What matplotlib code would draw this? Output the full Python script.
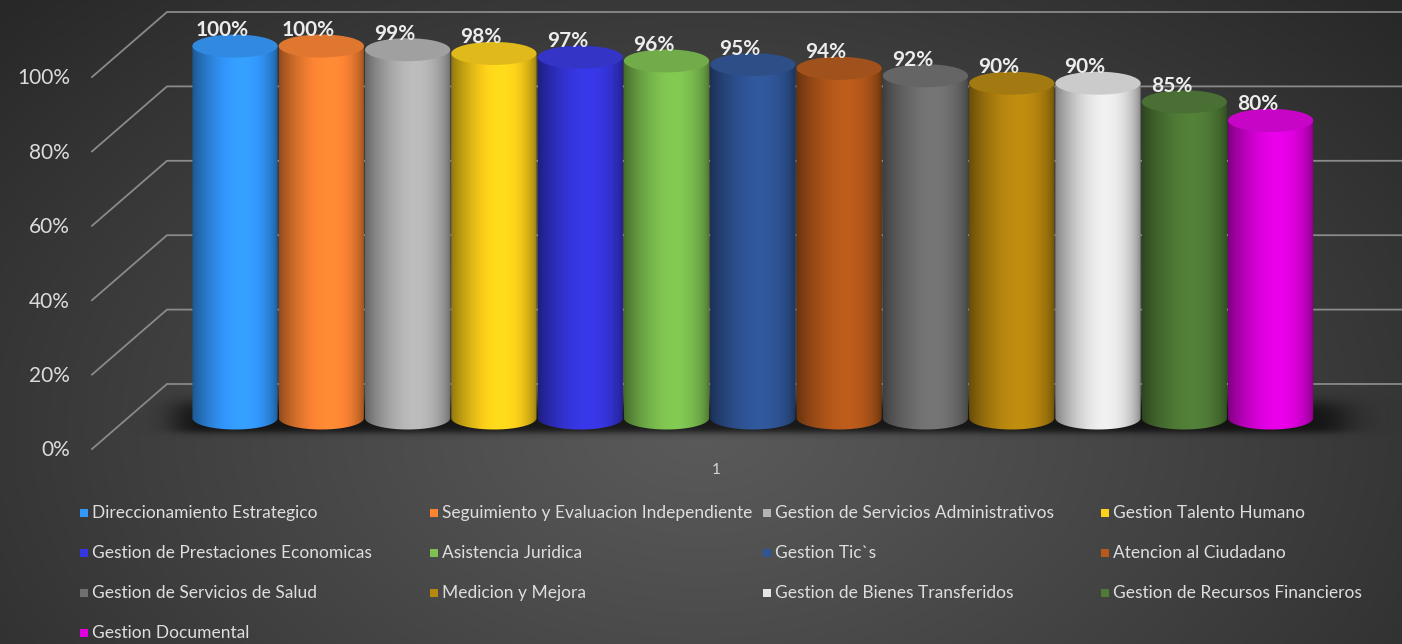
import numpy as np
import matplotlib
matplotlib.use("Agg")
import matplotlib.pyplot as plt
from matplotlib.patches import Ellipse, PathPatch, Rectangle
from matplotlib.path import Path
from matplotlib.colors import to_rgb

# ---------------- data ----------------
categories = [
    "Direccionamiento Estrategico", "Seguimiento y Evaluacion Independiente",
    "Gestion de Servicios Administrativos", "Gestion Talento Humano",
    "Gestion de Prestaciones Economicas", "Asistencia Juridica", "Gestion Tic`s",
    "Atencion al Ciudadano", "Gestion de Servicios de Salud", "Medicion y Mejora",
    "Gestion de Bienes Transferidos", "Gestion de Recursos Financieros",
    "Gestion Documental",
]
values = [100, 100, 99, 98, 97, 96, 95, 94, 92, 90, 90, 85, 80]
colors = ["#3399FF", "#FF8533", "#B4B4B4", "#FFD21A", "#3636E0", "#7DC150",
          "#2F5597", "#B5581A", "#707070", "#B8870F", "#E6E6E6", "#4F7B36",
          "#E000E0"]
y_ticks = [0, 20, 40, 60, 80, 100]
y_tick_labels = ["0%", "20%", "40%", "60%", "80%", "100%"]
value_labels = [f"{v}%" for v in values]
category_label = "1"

FONT = "Lato"
W, H = 1402, 644
fig = plt.figure(figsize=(W / 100, H / 100), dpi=100)

# ---------------- background ----------------
bg = fig.add_axes([0, 0, 1, 1])
bg.set_axis_off()
yy, xx = np.mgrid[0:H, 0:W]
d = np.sqrt(((xx - 700) / 950.0) ** 2 + ((yy - 430) / 620.0) ** 2)
d = np.clip(d, 0, 1) ** 1.1
c_in, c_out = np.array(to_rgb("#5a5a5a")), np.array(to_rgb("#282828"))
img = c_in[None, None, :] * (1 - d[..., None]) + c_out[None, None, :] * d[..., None]
bg.imshow(img, extent=[0, W, H, 0], aspect="auto", interpolation="bilinear")
bg.set_xlim(0, W)
bg.set_ylim(H, 0)

# ---------------- main axes (data coordinates) ----------------
X0, DX = 235.0, 86.3      # pixel x of first bar centre, spacing
Y0, DY = 418.0, 3.72      # pixel y of 0 % (bar plane), pixels per 1 %
ax = fig.add_axes([0, 0, 1, 1])
ax.set_facecolor("none")
ax.set_axis_off()
ax.set_xlim((0 - X0) / DX, (W - X0) / DX)
ax.set_ylim((Y0 - H) / DY, Y0 / DY)

back_off = (Y0 - 384) / DY     # back wall is higher
front_off = (449 - Y0) / DY    # front edge is lower
x_back = (167 - X0) / DX
x_front = (92 - X0) / DX
x_right = (W - X0) / DX
grid_c = "#8a8a8a"
for v in y_ticks:
    ax.plot([x_front, x_back, x_right], [v - front_off, v + back_off, v + back_off],
            color=grid_c, lw=1.3, zorder=1, solid_joinstyle="miter")

# tick labels (front plane)
for v, lab in zip(y_ticks, y_tick_labels):
    ax.text((70 - X0) / DX, v - front_off - 0.4, lab, ha="right", va="center",
            color="#dcdcdc", fontsize=15, family=FONT)

# category label
ax.text((716 - X0) / DX, (Y0 - 470) / DY, category_label, ha="center", va="center",
        color="#d6d6d6", fontsize=11, family=FONT)

n = len(values)
hw = 0.494
ry = 11.5 / DY

# floor shadow
sx = np.linspace(-1.6, n + 0.6, 900)
sy = np.linspace(-9, 10, 200)
SX, SY = np.meshgrid(sx, sy)
x1, x2 = -0.7, n - 1 + 0.85
y1, y2 = -4.0, 4.0
ax_ = 0.5 * (np.tanh((SX - x1) / 0.22) - np.tanh((SX - x2) / 0.3))
ay_ = 0.5 * (np.tanh((SY - y1) / 1.0) - np.tanh((SY - y2) / 2.2))
alpha = 0.72 * ax_ * ay_
shadow = np.zeros((len(sy), len(sx), 4))
shadow[..., 3] = alpha
ax.imshow(shadow, extent=[sx[0], sx[-1], sy[0], sy[-1]], origin="lower",
          aspect="auto", zorder=2, interpolation="bilinear")

# cylinder shading profile
t = np.linspace(0, 1, 200)
u = t ** 1.3
mult = 0.55 + 0.5 * np.sin(np.pi * u) ** 0.6

for i, (v, col) in enumerate(zip(values, colors)):
    base = np.array(to_rgb(col))
    z = 3 + i * 0.01
    # body path: rectangle + lower half ellipse
    th = np.linspace(0, np.pi, 60)
    verts = [(i - hw, v), (i + hw, v)]
    verts += [(i + hw * np.cos(a), -ry * np.sin(a)) for a in th]
    verts.append((i - hw, v))
    path = Path(verts, closed=True)
    patch = PathPatch(path, transform=ax.transData, facecolor="none",
                      edgecolor="none", zorder=z)
    ax.add_patch(patch)
    grad = np.clip(base[None, :] * mult[:, None], 0, 1)[None, :, :]
    im = ax.imshow(grad, extent=[i - hw, i + hw, -ry - 0.5, v + 0.1],
                   aspect="auto", interpolation="bilinear", zorder=z)
    im.set_clip_path(patch)
    # top ellipse
    top = np.clip(base * 0.86 + 0.02, 0, 1)
    ax.add_patch(Ellipse((i, v), 2 * hw, 2 * ry, facecolor=top,
                         edgecolor="none", zorder=z + 0.005))
    # value label
    ax.text(i - 0.15, v + 4.3, value_labels[i], ha="center", va="center",
            color="#ececec", fontsize=15, fontweight="bold", family=FONT,
            zorder=10)

# ---------------- legend (row-major, 4 columns) ----------------
col_px = [84, 434, 767, 1105]
row_px = [513, 553, 593, 633]
for k, (cat, col) in enumerate(zip(categories, colors)):
    r, c = divmod(k, 4)
    mx, my = col_px[c], row_px[r]
    fig.patches.append(Rectangle(((mx - 4) / W, 1 - (my + 4) / H), 8 / W, 8 / H,
                                 transform=fig.transFigure, facecolor=col,
                                 edgecolor="none"))
    fig.text((mx + 8) / W, 1 - my / H, cat, ha="left", va="center",
             color="#dedede", fontsize=12.5, family=FONT)

fig.savefig("out.png", dpi=100)
